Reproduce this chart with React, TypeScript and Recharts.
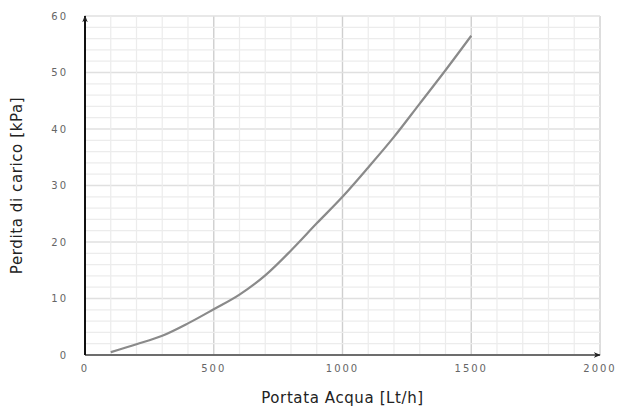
import React from "react";
import {
  LineChart,
  Line,
  XAxis,
  YAxis,
  CartesianGrid,
  ReferenceLine,
} from "recharts";

// portata (Lt/h) and perdita di carico (kPa)
const flow = [100, 200, 300, 400, 500, 600, 700, 800, 900, 1000, 1100, 1200, 1300, 1400, 1500];
const pressureDrop = [0.5, 1.9, 3.4, 5.6, 8.1, 10.7, 14.1, 18.5, 23.3, 28.0, 33.2, 38.6, 44.5, 50.4, 56.5];

const xTicks = [0, 500, 1000, 1500, 2000];
const yTicks = [0, 10, 20, 30, 40, 50, 60];
const xMinorTicks = [100, 200, 300, 400, 600, 700, 800, 900, 1100, 1200, 1300, 1400, 1600, 1700, 1800, 1900];
const yMinorTicks = [2, 4, 6, 8, 12, 14, 16, 18, 22, 24, 26, 28, 32, 34, 36, 38, 42, 44, 46, 48, 52, 54, 56, 58];

const data = flow.map((q, i) => ({ q, dp: pressureDrop[i] }));

const tickStyle = { fontFamily: "DejaVu Sans", fontSize: 10, fill: "#666", letterSpacing: 2 };
const titleStyle = { fontFamily: "DejaVu Sans", fontSize: 15, fill: "#222", letterSpacing: 0.6, textAnchor: "middle" as const };

export default function App() {
  return (
    <div style={{ position: "absolute", left: 0, top: 0, background: "#fff" }}>
      <LineChart
        width={637}
        height={408}
        data={data}
        margin={{ top: 16, right: 37, left: 0, bottom: 0 }}
      >
        <defs>
          <marker id="arrow" viewBox="0 0 10 10" refX="9" refY="5" markerWidth="7" markerHeight="7" orient="auto-start-reverse" markerUnits="userSpaceOnUse">
            <path d="M0,1 L10,5 L0,9 L3,5 z" fill="#222" />
          </marker>
        </defs>
        <CartesianGrid horizontal={false} stroke="#cfcfcf" strokeWidth={1.4} />
        <CartesianGrid vertical={false} stroke="#e0e0e0" strokeWidth={1.4} />
        {xMinorTicks.map((v) => (
          <ReferenceLine key={"x" + v} x={v} stroke="#ececec" strokeWidth={1.2} />
        ))}
        {yMinorTicks.map((v) => (
          <ReferenceLine key={"y" + v} y={v} stroke="#ececec" strokeWidth={1.2} />
        ))}
        <XAxis
          type="number"
          dataKey="q"
          domain={[0, 2000]}
          ticks={xTicks}
          height={53}
          tickLine={false}
          tick={tickStyle}
          tickMargin={4}
          axisLine={{ stroke: "#444", strokeWidth: 1.4, markerEnd: "url(#arrow)" }}
          label={{ value: "Portata Acqua [Lt/h]", position: "insideBottom", offset: 5, style: titleStyle }}
        />
        <YAxis
          type="number"
          domain={[0, 60]}
          ticks={yTicks}
          width={85}
          tickLine={false}
          tick={tickStyle}
          tickMargin={11}
          axisLine={{ stroke: "#111", strokeWidth: 2, markerStart: "url(#arrow)" }}
          label={{ value: "Perdita di carico [kPa]", angle: -90, position: "insideLeft", offset: 17, style: titleStyle }}
        />
        <Line
          type="monotone"
          dataKey="dp"
          stroke="#8a8a8a"
          strokeWidth={2.2}
          dot={false}
          isAnimationActive={false}
        />
      </LineChart>
    </div>
  );
}
